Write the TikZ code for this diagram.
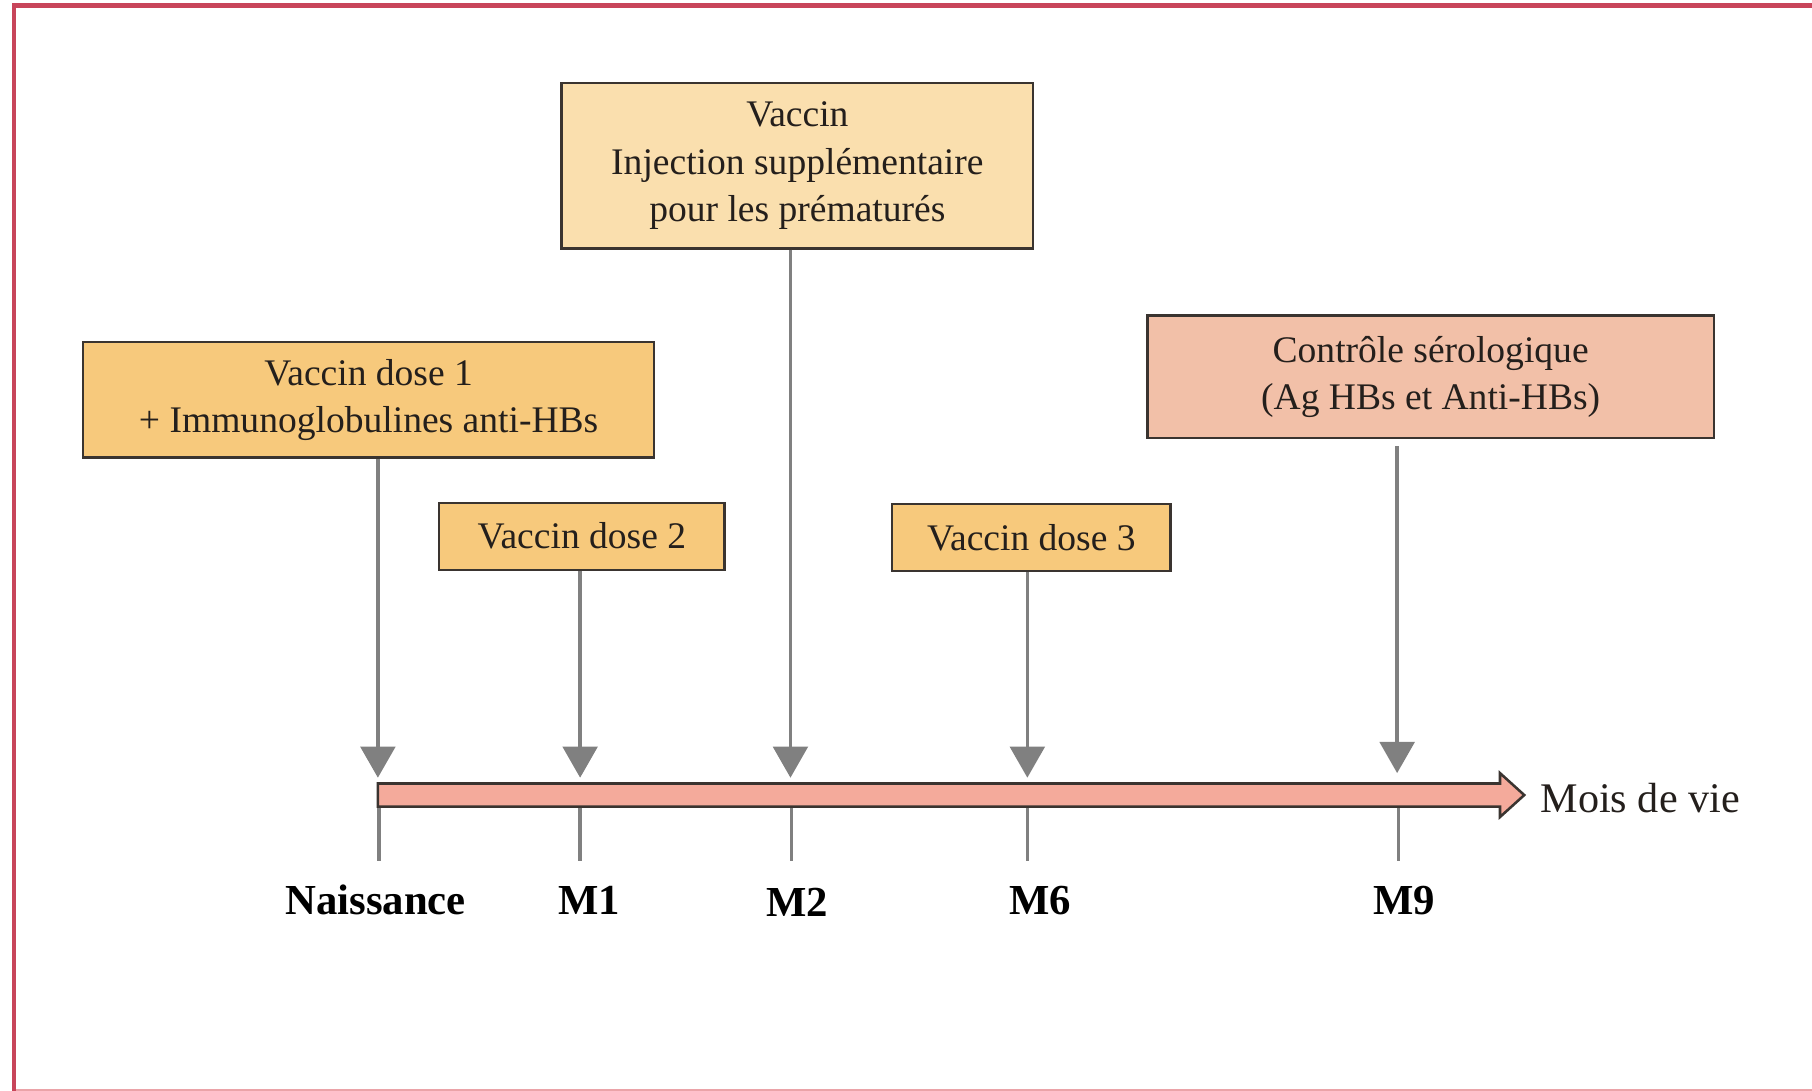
\documentclass[tikz,border=0pt]{standalone}
\usepackage{fontspec}
\setmainfont{Liberation Serif}
\usetikzlibrary{arrows.meta}
\definecolor{framered}{HTML}{C8455A}
\definecolor{framelight}{HTML}{EBA3A8}
\definecolor{boxline}{HTML}{3A3430}
\definecolor{lightpeach}{HTML}{FADFAE}
\definecolor{doseorange}{HTML}{F7C97C}
\definecolor{salmonbox}{HTML}{F2C0A8}
\definecolor{arrowgray}{HTML}{808080}
\definecolor{timefill}{HTML}{F4AA9B}
\definecolor{textdark}{HTML}{241F1C}
\tikzset{
  infobox/.style={draw=boxline, line width=2pt, inner sep=0pt, align=center,
    text=textdark, font=\fontsize{32.5}{41}\selectfont},
  garrow/.style={draw=arrowgray, line width=3.2pt,
    -{Triangle[width=30pt,length=27pt]}},
  tickline/.style={draw=arrowgray, line width=3pt},
  ticklabel/.style={font=\fontsize{37}{40}\selectfont\bfseries, text=black, inner sep=0pt}
}
\begin{document}
\begin{tikzpicture}[x=1pt,y=-1pt]
\useasboundingbox (0,0) rectangle (1568,944);
% frame
\draw[framelight, line width=1.5pt] (12,943) -- (1568,943);
\draw[framered, line width=4pt] (12,944) -- (12,4.5) -- (1568,4.5);
% boxes
\node[infobox, fill=lightpeach, minimum width=408pt, minimum height=143pt] (prem) at (690,143.5)
  {Vaccin\\Injection supplémentaire\\pour les prématurés};
\node[infobox, fill=doseorange, minimum width=494pt, minimum height=100pt] (dose1) at (319,346)
  {Vaccin dose 1\\+ Immunoglobulines anti-HBs};
\node[infobox, fill=salmonbox, minimum width=490pt, minimum height=106pt] (ctrl) at (1238,326)
  {Contrôle sérologique\\(Ag HBs et Anti-HBs)};
\node[infobox, fill=doseorange, minimum width=247pt, minimum height=58pt] (dose2) at (503.5,464)
  {Vaccin dose 2};
\node[infobox, fill=doseorange, minimum width=241pt, minimum height=58pt] (dose3) at (892.5,465)
  {Vaccin dose 3};
% timeline points
\coordinate (p0) at (327,673);
\coordinate (p1) at (502,673);
\coordinate (p2) at (684,673);
\coordinate (p6) at (889,673);
\coordinate (p9) at (1209,669);
\coordinate (s9) at (1209,386);
% ticks
\coordinate (b0) at (328,745);
\coordinate (b1) at (502,745);
\coordinate (b2) at (685,745);
\coordinate (b6) at (889,745);
\coordinate (b9) at (1210,745);
\draw[tickline] (328,698) -- (b0);
\draw[tickline] (502,698) -- (b1);
\draw[tickline] (685,698) -- (b2);
\draw[tickline] (889,698) -- (b6);
\draw[tickline] (1210,698) -- (b9);
% timeline arrow
\draw[boxline, fill=timefill, line width=2.2pt, line join=miter]
  (327,678) -- (1298,678) -- (1298,669) -- (1319,688) -- (1298,707) -- (1298,698) -- (327,698) -- cycle;
\node[anchor=west, inner sep=0pt, text=textdark, font=\fontsize{36.5}{40}\selectfont] (mois) at (1333,691) {Mois de vie};
% arrows
\draw[garrow] (dose1.south -| p0) -- (p0);
\draw[garrow] (dose2.south -| p1) -- (p1);
\draw[garrow] (prem.south -| p2) -- (p2);
\draw[garrow] (dose3.south -| p6) -- (p6);
\draw[garrow] (s9) -- (p9);
% labels
\node[ticklabel] (lN) at (325,779) {Naissance};
\node[ticklabel] (l1) at (510,779) {M1};
\node[ticklabel] (l2) at (690,781) {M2};
\node[ticklabel] (l6) at (900,779) {M6};
\node[ticklabel] (l9) at (1215,779) {M9};
\end{tikzpicture}
\end{document}
